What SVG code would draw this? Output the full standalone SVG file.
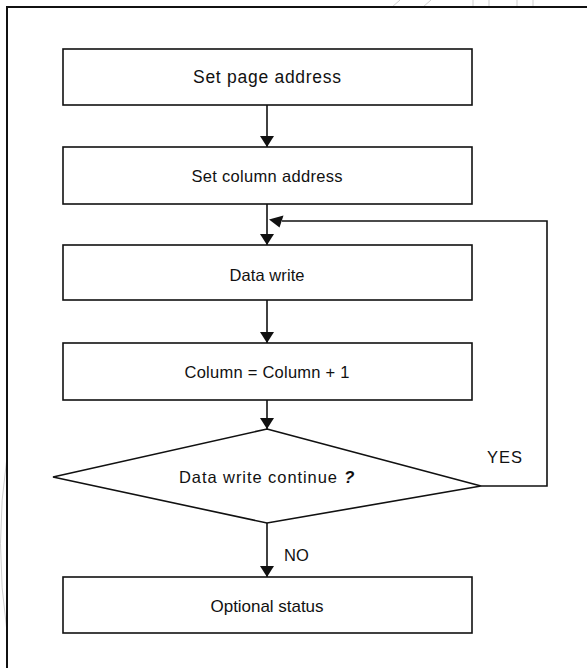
<svg xmlns="http://www.w3.org/2000/svg" width="587" height="668" viewBox="0 0 587 668">
<style>
.box{fill:#fff;stroke:#111;stroke-width:1.6}
.ln{fill:none;stroke:#111;stroke-width:1.6}
.bg{fill:none;stroke:#cfcfcf;stroke-width:1}
text{font-family:"Liberation Sans",Arial,sans-serif;fill:#111}
.c{text-anchor:middle}
</style>
<defs>
<marker id="ah" markerWidth="11" markerHeight="14" refX="11" refY="7" orient="auto" markerUnits="userSpaceOnUse" viewBox="0 0 11 14">
<path d="M0,0 L11,7 L0,14 Z" fill="#111"/>
</marker>
</defs>
<rect width="587" height="668" fill="#fff"/>
<g id="background">
<path class="bg" d="M392,7 L400,0 M423,7 L431,0 M473,0 V7 M489,0 V7 M517,0 V7 M533,0 V7"/>
<path class="bg" d="M7,457 Q-6,543 7,632"/>
</g>
<g id="frame">
<path d="M7,668 V7 H587" fill="none" stroke="#111" stroke-width="2"/>
</g>
<g id="connectors">
<line class="ln" x1="267" y1="105" x2="267" y2="147" marker-end="url(#ah)"/>
<line class="ln" x1="267" y1="204" x2="267" y2="245" marker-end="url(#ah)"/>
<line class="ln" x1="267" y1="300" x2="267" y2="343" marker-end="url(#ah)"/>
<line class="ln" x1="267" y1="400" x2="267" y2="429" marker-end="url(#ah)"/>
<line class="ln" x1="267" y1="523" x2="267" y2="577" marker-end="url(#ah)"/>
<polyline class="ln" points="481,486 547,486 547,221 282,221"/>
<polygon points="269,219.5 283.5,215.5 279.5,227.5" fill="#111"/>
</g>
<g id="n1"><rect class="box" x="63" y="49" width="409" height="56"/>
<text class="c" x="267" y="83" font-size="17.5" textLength="148" lengthAdjust="spacing">Set page address</text></g>
<g id="n2"><rect class="box" x="63" y="147" width="409" height="57"/>
<text class="c" x="267" y="182" font-size="16.5" textLength="151" lengthAdjust="spacing">Set column address</text></g>
<g id="n3"><rect class="box" x="63" y="245" width="409" height="55"/>
<text class="c" x="267" y="281" font-size="16.5" textLength="75" lengthAdjust="spacing">Data write</text></g>
<g id="n4"><rect class="box" x="63" y="343" width="409" height="57"/>
<text class="c" x="267" y="378" font-size="16.5" textLength="165" lengthAdjust="spacing">Column = Column + 1</text></g>
<g id="n5"><polygon class="box" points="267,429 481,486 267,523 53,477"/>
<text x="179" y="483" font-size="16.5" textLength="158" lengthAdjust="spacing">Data write continue</text>
<text x="344" y="483" font-size="17" font-weight="bold" font-style="italic">?</text></g>
<g id="n6"><rect class="box" x="63" y="577" width="409" height="56"/>
<text class="c" x="267" y="612" font-size="17" textLength="113" lengthAdjust="spacing">Optional status</text></g>
<g id="labels">
<text x="487" y="463" font-size="16.5" textLength="35" lengthAdjust="spacing">YES</text>
<text x="284" y="561" font-size="16.5">NO</text>
</g>
</svg>
